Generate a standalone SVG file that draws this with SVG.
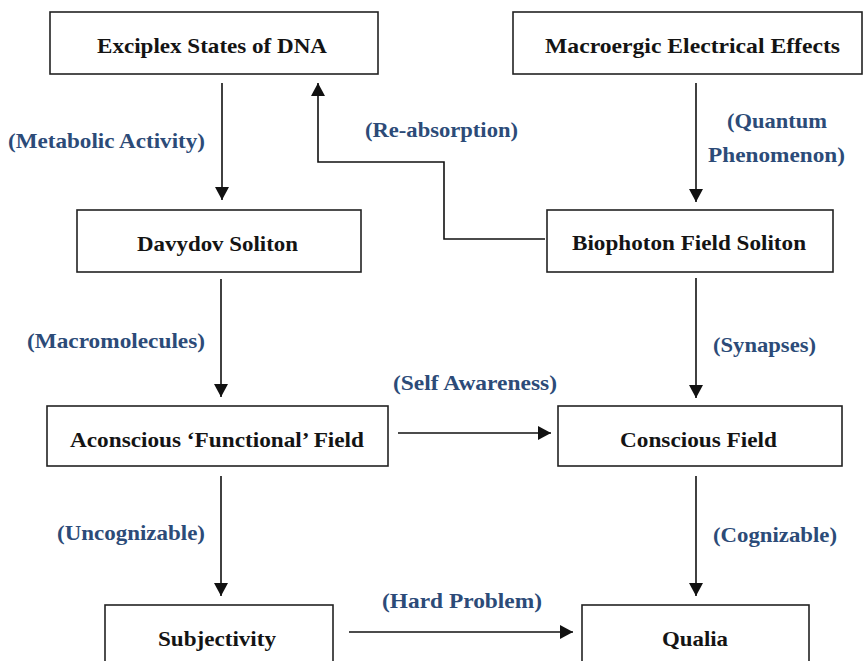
<svg xmlns="http://www.w3.org/2000/svg" width="863" height="661" viewBox="0 0 863 661">
<defs>
<marker id="ah" viewBox="0 0 13 14" refX="13" refY="7" markerWidth="13" markerHeight="14" markerUnits="userSpaceOnUse" orient="auto">
<path d="M0,0 L13,7 L0,14 z" fill="#111"/>
</marker>
</defs>
<rect width="863" height="661" fill="#fff"/>
<g id="connectors" fill="none" stroke="#111" stroke-width="1.6">
<line x1="222" y1="83" x2="222" y2="200" marker-end="url(#ah)"/>
<line x1="696" y1="83" x2="696" y2="202" marker-end="url(#ah)"/>
<path d="M545,239 H444 V162 H318 V83" marker-end="url(#ah)"/>
<line x1="221" y1="279" x2="221" y2="397" marker-end="url(#ah)"/>
<line x1="696" y1="278" x2="696" y2="398" marker-end="url(#ah)"/>
<line x1="398" y1="433" x2="551" y2="433" marker-end="url(#ah)"/>
<line x1="221" y1="476" x2="221" y2="596" marker-end="url(#ah)"/>
<line x1="696" y1="476" x2="696" y2="596" marker-end="url(#ah)"/>
<line x1="349" y1="632" x2="573" y2="632" marker-end="url(#ah)"/>
</g>
<g id="labels">
<text font-family="Liberation Serif" font-weight="bold" font-size="21" fill="#2c4b78" x="8" y="148" textLength="197" lengthAdjust="spacingAndGlyphs">(Metabolic Activity)</text>
<text font-family="Liberation Serif" font-weight="bold" font-size="21" fill="#2c4b78" x="365" y="137" textLength="153" lengthAdjust="spacingAndGlyphs">(Re-absorption)</text>
<text font-family="Liberation Serif" font-weight="bold" font-size="21" fill="#2c4b78" x="727" y="128" textLength="100" lengthAdjust="spacingAndGlyphs">(Quantum</text>
<text font-family="Liberation Serif" font-weight="bold" font-size="21" fill="#2c4b78" x="708" y="162" textLength="137" lengthAdjust="spacingAndGlyphs">Phenomenon)</text>
<text font-family="Liberation Serif" font-weight="bold" font-size="21" fill="#2c4b78" x="27" y="348" textLength="178" lengthAdjust="spacingAndGlyphs">(Macromolecules)</text>
<text font-family="Liberation Serif" font-weight="bold" font-size="21" fill="#2c4b78" x="713" y="352" textLength="103" lengthAdjust="spacingAndGlyphs">(Synapses)</text>
<text font-family="Liberation Serif" font-weight="bold" font-size="21" fill="#2c4b78" x="393" y="390" textLength="164" lengthAdjust="spacingAndGlyphs">(Self Awareness)</text>
<text font-family="Liberation Serif" font-weight="bold" font-size="21" fill="#2c4b78" x="57" y="540" textLength="148" lengthAdjust="spacingAndGlyphs">(Uncognizable)</text>
<text font-family="Liberation Serif" font-weight="bold" font-size="21" fill="#2c4b78" x="713" y="542" textLength="124" lengthAdjust="spacingAndGlyphs">(Cognizable)</text>
<text font-family="Liberation Serif" font-weight="bold" font-size="21" fill="#2c4b78" x="382" y="608" textLength="160" lengthAdjust="spacingAndGlyphs">(Hard Problem)</text>
</g>
<g id="exciplex">
<rect x="50" y="12" width="328" height="62" fill="#fff" stroke="#222" stroke-width="1.6"/>
<text font-family="Liberation Serif" font-weight="bold" font-size="21" fill="#141414" x="97" y="53" textLength="230" lengthAdjust="spacingAndGlyphs">Exciplex States of DNA</text>
</g>
<g id="macroergic">
<rect x="513" y="12" width="349" height="62" fill="#fff" stroke="#222" stroke-width="1.6"/>
<text font-family="Liberation Serif" font-weight="bold" font-size="21" fill="#141414" x="545" y="53" textLength="295" lengthAdjust="spacingAndGlyphs">Macroergic Electrical Effects</text>
</g>
<g id="davydov">
<rect x="77" y="210" width="284" height="62" fill="#fff" stroke="#222" stroke-width="1.6"/>
<text font-family="Liberation Serif" font-weight="bold" font-size="21" fill="#141414" x="137" y="251" textLength="161" lengthAdjust="spacingAndGlyphs">Davydov  Soliton</text>
</g>
<g id="biophoton">
<rect x="547" y="210" width="286" height="62" fill="#fff" stroke="#222" stroke-width="1.6"/>
<text font-family="Liberation Serif" font-weight="bold" font-size="21" fill="#141414" x="572" y="250" textLength="234" lengthAdjust="spacingAndGlyphs">Biophoton Field Soliton</text>
</g>
<g id="aconscious">
<rect x="47" y="406" width="341" height="60" fill="#fff" stroke="#222" stroke-width="1.6"/>
<text font-family="Liberation Serif" font-weight="bold" font-size="21" fill="#141414" x="70" y="447" textLength="294" lengthAdjust="spacingAndGlyphs">Aconscious &#8216;Functional&#8217; Field</text>
</g>
<g id="conscious">
<rect x="558" y="406" width="284" height="60" fill="#fff" stroke="#222" stroke-width="1.6"/>
<text font-family="Liberation Serif" font-weight="bold" font-size="21" fill="#141414" x="620" y="447" textLength="157" lengthAdjust="spacingAndGlyphs">Conscious Field</text>
</g>
<g id="subjectivity">
<rect x="105" y="605" width="228" height="70" fill="#fff" stroke="#222" stroke-width="1.6"/>
<text font-family="Liberation Serif" font-weight="bold" font-size="21" fill="#141414" x="158" y="646" textLength="118" lengthAdjust="spacingAndGlyphs">Subjectivity</text>
</g>
<g id="qualia">
<rect x="582" y="605" width="227" height="70" fill="#fff" stroke="#222" stroke-width="1.6"/>
<text font-family="Liberation Serif" font-weight="bold" font-size="21" fill="#141414" x="662" y="646" textLength="66" lengthAdjust="spacingAndGlyphs">Qualia</text>
</g>
</svg>
